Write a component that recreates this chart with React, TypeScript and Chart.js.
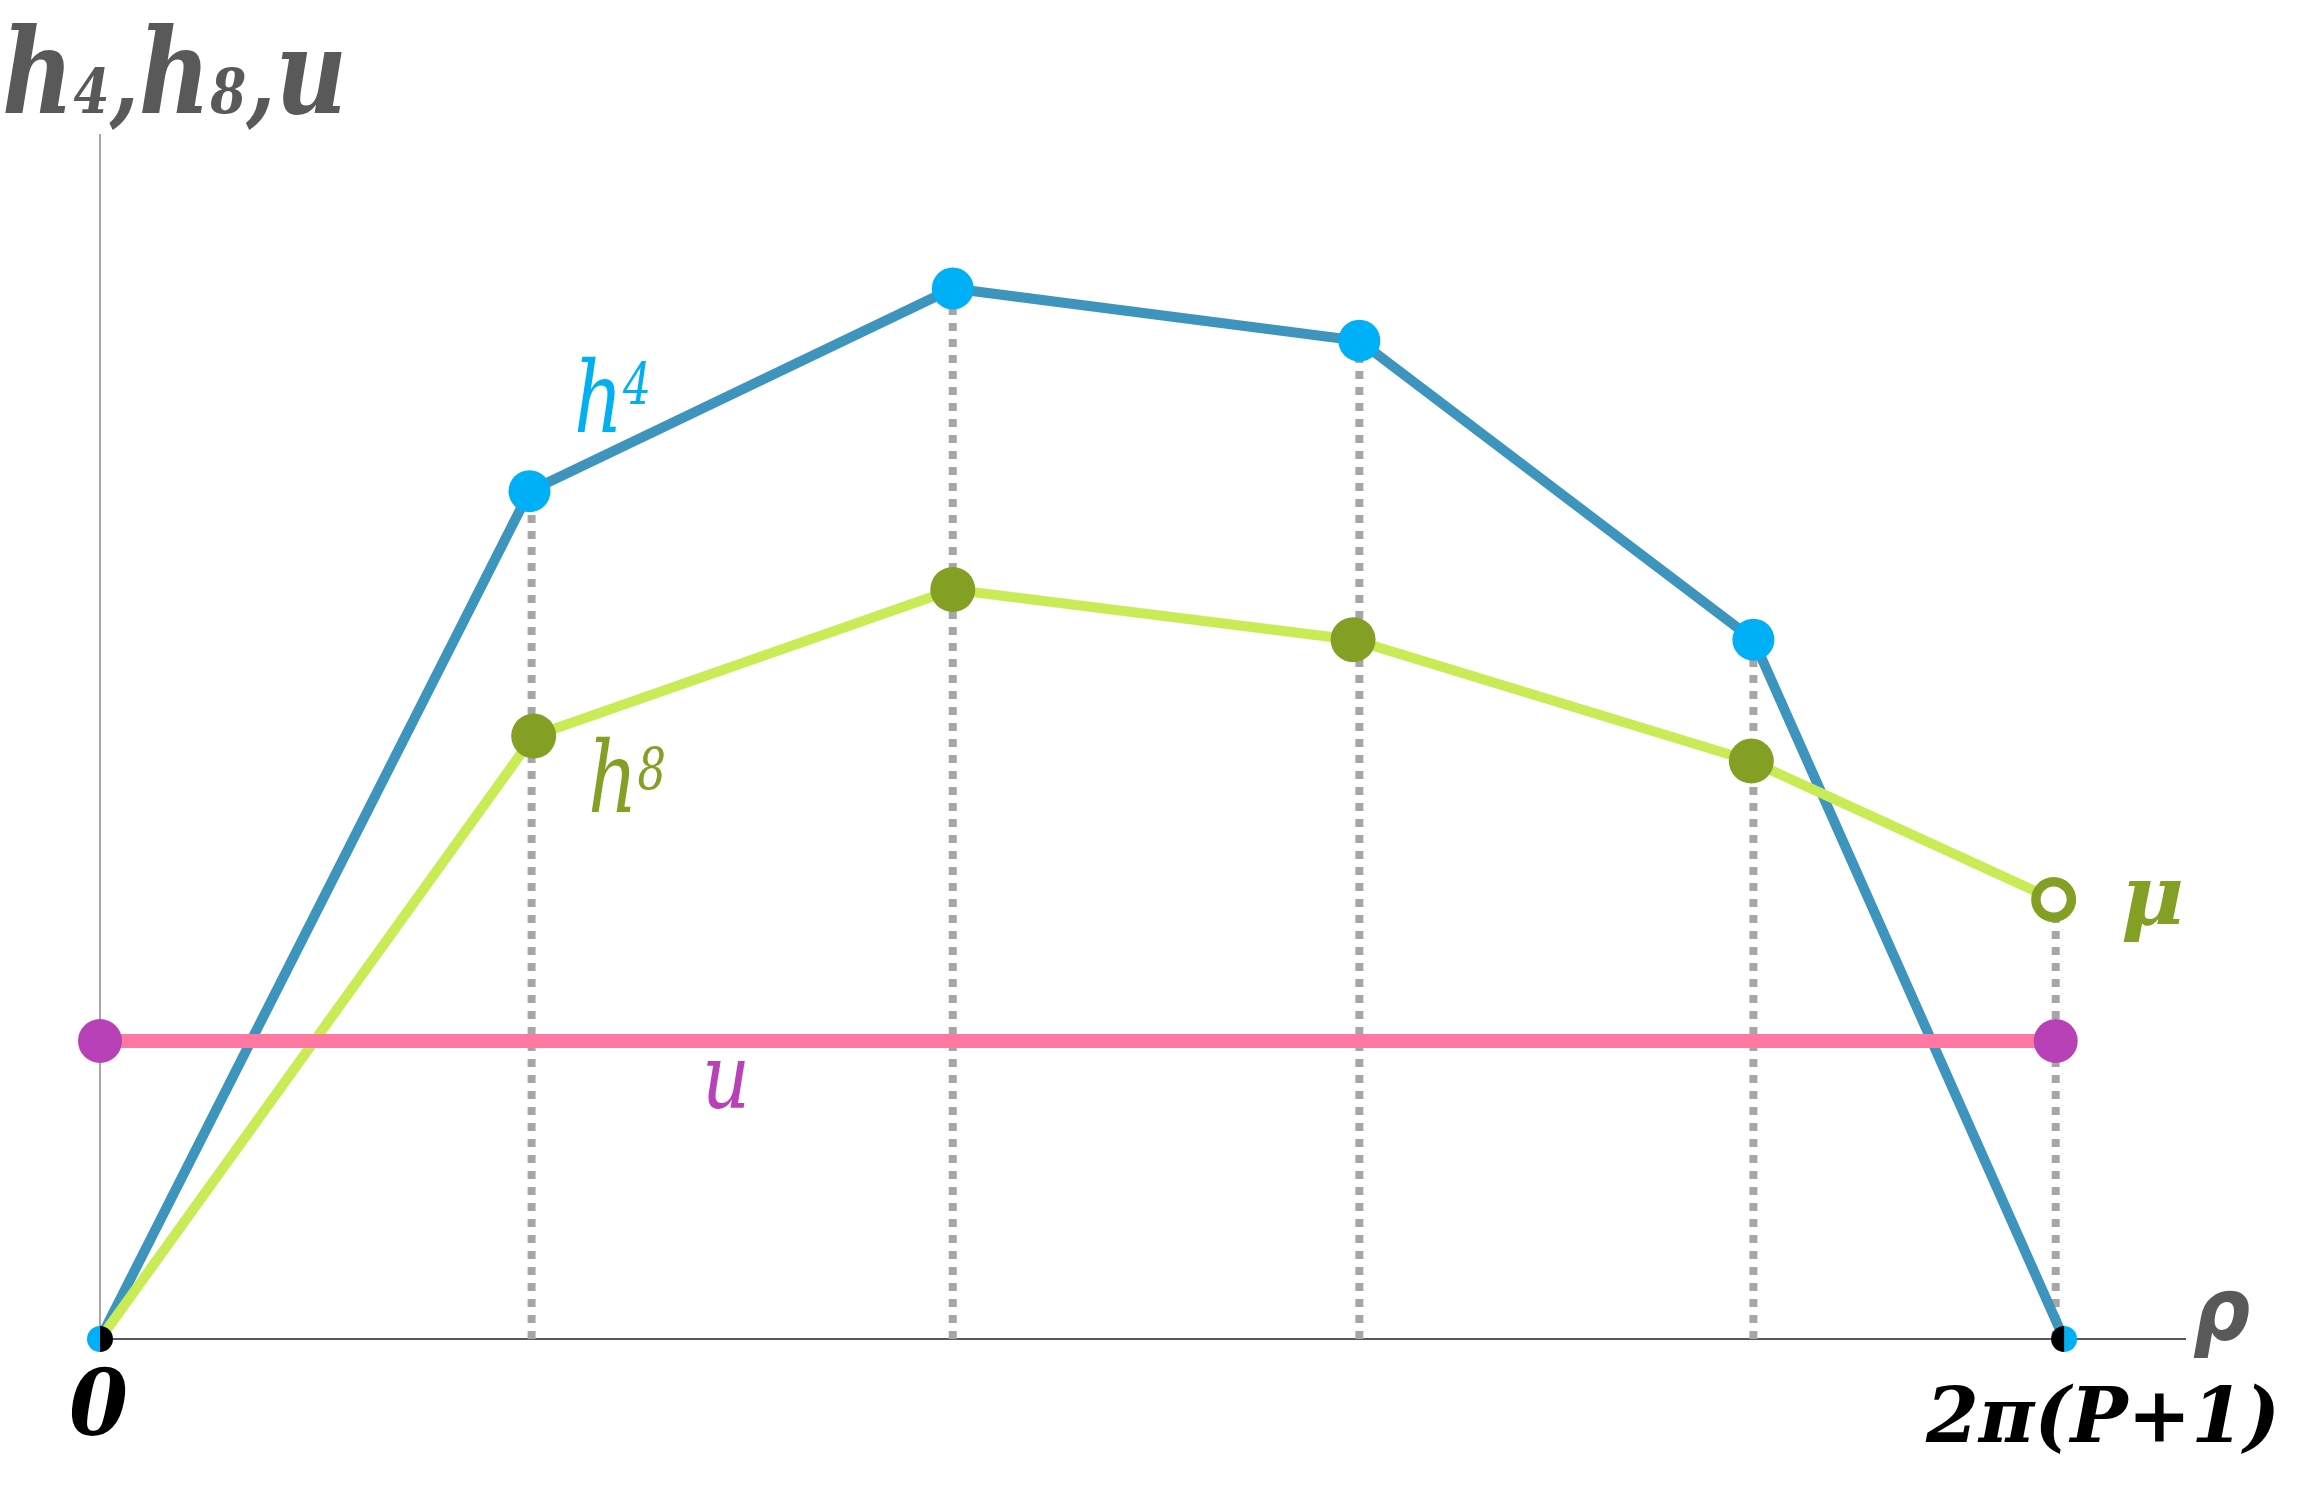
import React, { useEffect, useRef } from "react";
import { Chart, registerables } from "chart.js";

Chart.register(...registerables);

// ---- data ----
const X_MAX = 10;
const Y_MAX = 12;
const h4X = [0, 2.06, 4.09, 6.04, 7.93, 9.42];
const h4Y = [0, 8.45, 10.47, 9.95, 6.97, 0];
const h8X = [0, 2.08, 4.09, 6.01, 7.92, 9.37];
const h8Y = [0, 6.01, 7.47, 6.97, 5.76, 4.38];
const uX = [0, 9.38];
const uY = [2.97, 2.97];
const dropX = [2.07, 4.09, 6.04, 7.93, 9.38];
const dropTop = [h4Y[1], h4Y[2], h4Y[3], h4Y[4], h8Y[5]];
const xLabels = ["0", "2π(P+1)"];
const axisTitleY = ["h", "4", ",", "h", "8", ",", "u"];
const axisTitleX = "ρ";
const seriesLabels = ["h4", "h8", "μ", "u"];

const SERIF = '"DejaVu Serif", "Liberation Serif", serif';
const SANS = '"DejaVu Sans", "Liberation Sans", sans-serif';

function halfDot(r: number, leftColor: string, rightColor: string) {
  const c = document.createElement("canvas");
  c.width = 2 * r + 2;
  c.height = 2 * r + 2;
  const g = c.getContext("2d")!;
  const cx = r + 1, cy = r + 1;
  g.fillStyle = leftColor;
  g.beginPath();
  g.moveTo(cx, cy);
  g.arc(cx, cy, r, Math.PI / 2, (3 * Math.PI) / 2);
  g.closePath();
  g.fill();
  g.fillStyle = rightColor;
  g.beginPath();
  g.moveTo(cx, cy);
  g.arc(cx, cy, r, -Math.PI / 2, Math.PI / 2);
  g.closePath();
  g.fill();
  return c;
}

type Seg = { t: string; s: number; dy?: number };

function drawSegs(
  ctx: CanvasRenderingContext2D,
  segs: Seg[],
  x: number,
  baseline: number,
  width: number | null,
  color: string,
  style: string,
  family: string
) {
  ctx.save();
  let total = 0;
  for (const sg of segs) {
    ctx.font = `${style} ${sg.s}px ${family}`;
    total += ctx.measureText(sg.t).width;
  }
  const k = width ? width / total : 1;
  ctx.translate(x, baseline);
  ctx.scale(k, 1);
  ctx.fillStyle = color;
  ctx.textBaseline = "alphabetic";
  ctx.textAlign = "left";
  let cx = 0;
  for (const sg of segs) {
    ctx.font = `${style} ${sg.s}px ${family}`;
    ctx.fillText(sg.t, cx, sg.dy || 0);
    cx += ctx.measureText(sg.t).width;
  }
  ctx.restore();
}

const labelsPlugin = {
  id: "labelsPlugin",
  afterDraw(chart: any) {
    const ctx = chart.ctx as CanvasRenderingContext2D;
    // axis title (y)
    const sizes = [118, 62, 100, 118, 62, 100, 118];
    drawSegs(
      ctx,
      axisTitleY.map((t, i) => ({ t, s: sizes[i] })),
      2,
      113,
      345,
      "#595959",
      "bold italic",
      SERIF
    );
    // axis title (x)
    drawSegs(ctx, [{ t: axisTitleX, s: 88 }], 2193, 1340, 57, "#595959", "bold italic", SANS);
    // tick labels
    drawSegs(ctx, [{ t: xLabels[0], s: 92 }], 69, 1435, 59, "#000000", "bold italic", SERIF);
    drawSegs(ctx, [{ t: xLabels[1], s: 76 }], 1926, 1442, 354, "#000000", "bold italic", SERIF);
    // series labels
    drawSegs(
      ctx,
      [{ t: seriesLabels[0][0], s: 100 }, { t: seriesLabels[0][1], s: 58, dy: -28 }],
      574,
      432,
      77,
      "#00b0f0",
      "italic",
      SERIF
    );
    drawSegs(
      ctx,
      [{ t: seriesLabels[1][0], s: 100 }, { t: seriesLabels[1][1], s: 58, dy: -23 }],
      588,
      812,
      78,
      "#84a024",
      "italic",
      SERIF
    );
    drawSegs(ctx, [{ t: seriesLabels[2], s: 85 }], 2121, 924, 63, "#84a024", "bold italic", SERIF);
    drawSegs(ctx, [{ t: seriesLabels[3], s: 90 }], 702, 1108, 48, "#b841b8", "italic", SERIF);
  },
};

export default function App() {
  const ref = useRef<HTMLCanvasElement | null>(null);

  useEffect(() => {
    document.body.style.margin = "0";
    const canvas = ref.current!;
    const leftEnd = halfDot(13, "#00b0f6", "#000000");
    const rightEnd = halfDot(13, "#000000", "#00b0f6");

    const dropData: any[] = [];
    dropX.forEach((x, i) => {
      dropData.push({ x, y: 0 });
      dropData.push({ x, y: dropTop[i] });
      dropData.push({ x, y: null });
    });

    const chart = new Chart(canvas, {
      type: "line",
      data: {
        datasets: [
          {
            label: "drops",
            data: dropData,
            borderColor: "#a6a6a6",
            borderWidth: 8,
            borderDash: [8, 8],
            borderCapStyle: "butt",
            pointRadius: 0,
            spanGaps: false,
            clip: false,
            order: 10,
          } as any,
          {
            label: "h4",
            data: h4X.map((x, i) => ({ x, y: h4Y[i] })),
            borderColor: "#3d94bd",
            borderWidth: 10,
            pointRadius: h4X.map((_, i) => (i === 0 || i === h4X.length - 1 ? 0 : 21)),
            pointBackgroundColor: "#00b0f6",
            pointBorderWidth: 0,
            clip: false,
            order: 8,
          } as any,
          {
            label: "h8",
            data: h8X.map((x, i) => ({ x, y: h8Y[i] })),
            borderColor: "#c9eb55",
            borderWidth: 10,
            pointRadius: h8X.map((_, i) => (i === 0 ? 0 : i === h8X.length - 1 ? 17.75 : 22.5)),
            pointBackgroundColor: h8X.map((_, i) => (i === h8X.length - 1 ? "#ffffff" : "#84a024")),
            pointBorderColor: "#84a024",
            pointBorderWidth: h8X.map((_, i) => (i === h8X.length - 1 ? 9.5 : 0)),
            clip: false,
            order: 7,
          } as any,
          {
            label: "u",
            data: uX.map((x, i) => ({ x, y: uY[i] })),
            borderColor: "#ff78a1",
            borderWidth: 14,
            pointRadius: 22,
            pointBackgroundColor: "#b841b8",
            pointBorderWidth: 0,
            clip: false,
            order: 6,
          } as any,
          {
            label: "ends",
            data: [
              { x: h4X[0], y: h4Y[0] },
              { x: h4X[h4X.length - 1], y: h4Y[h4Y.length - 1] },
            ],
            showLine: false,
            pointRadius: 13,
            pointStyle: [leftEnd, rightEnd],
            clip: false,
            order: 1,
          } as any,
        ],
      },
      options: {
        responsive: false,
        animation: false,
        devicePixelRatio: 1,
        events: [],
        layout: { padding: { left: 100, top: 135, right: 118, bottom: 161 } },
        plugins: { legend: { display: false }, tooltip: { enabled: false } },
        scales: {
          x: {
            type: "linear",
            min: 0,
            max: X_MAX,
            grid: { display: false, drawTicks: false },
            ticks: { display: false },
            border: { display: true, color: "#595959", width: 2 },
          },
          y: {
            type: "linear",
            min: 0,
            max: Y_MAX,
            grid: { display: false, drawTicks: false },
            ticks: { display: false },
            border: { display: true, color: "#a6a6a6", width: 2 },
          },
        },
      } as any,
      plugins: [labelsPlugin],
    });
    return () => chart.destroy();
  }, []);

  return (
    <div style={{ position: "absolute", left: 0, top: 0, width: 2303, height: 1500, background: "#ffffff" }}>
      <canvas ref={ref} width={2303} height={1500} style={{ display: "block" }} />
    </div>
  );
}
